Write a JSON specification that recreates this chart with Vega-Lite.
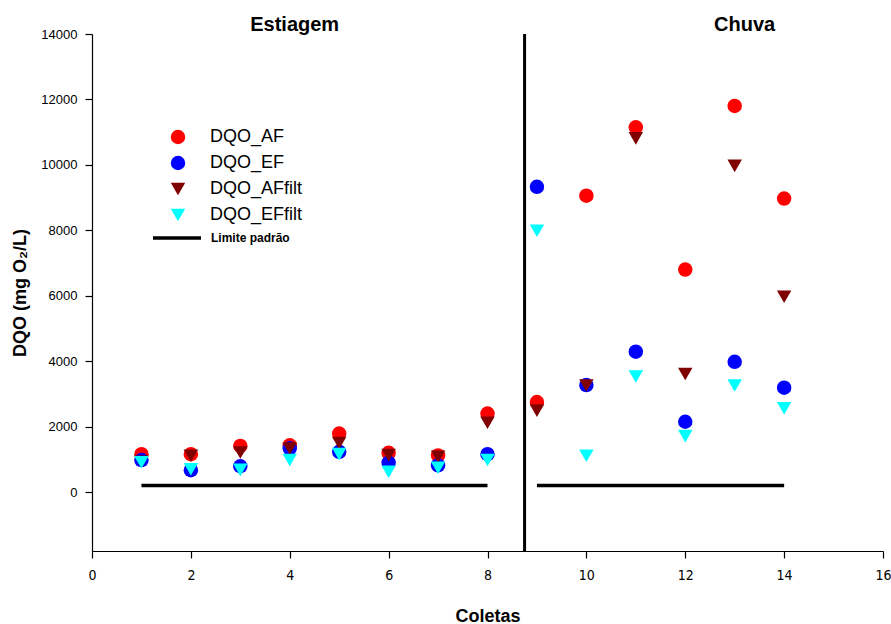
{
  "$schema": "https://vega.github.io/schema/vega-lite/v6.json",
  "width": 791,
  "height": 517,
  "autosize": {"type": "none"},
  "padding": {"left": 92, "top": 34, "right": 8, "bottom": 73},
  "config": {
    "view": {"stroke": null},
    "font": "Liberation Sans",
    "axis": {"grid": false, "domainColor": "black", "tickColor": "black", "labelColor": "black", "titleColor": "black", "domainWidth": 1.2, "tickWidth": 1.2}
  },
  "datasets": {
    "dqo": [
      {"coleta": 1, "serie": "DQO_AF", "dqo": 1160},
      {"coleta": 2, "serie": "DQO_AF", "dqo": 1160},
      {"coleta": 3, "serie": "DQO_AF", "dqo": 1410},
      {"coleta": 4, "serie": "DQO_AF", "dqo": 1430},
      {"coleta": 5, "serie": "DQO_AF", "dqo": 1790},
      {"coleta": 6, "serie": "DQO_AF", "dqo": 1200},
      {"coleta": 7, "serie": "DQO_AF", "dqo": 1120},
      {"coleta": 8, "serie": "DQO_AF", "dqo": 2400},
      {"coleta": 9, "serie": "DQO_AF", "dqo": 2750},
      {"coleta": 10, "serie": "DQO_AF", "dqo": 9060},
      {"coleta": 11, "serie": "DQO_AF", "dqo": 11150},
      {"coleta": 12, "serie": "DQO_AF", "dqo": 6800},
      {"coleta": 13, "serie": "DQO_AF", "dqo": 11800},
      {"coleta": 14, "serie": "DQO_AF", "dqo": 8970},
      {"coleta": 1, "serie": "DQO_EF", "dqo": 980},
      {"coleta": 2, "serie": "DQO_EF", "dqo": 670},
      {"coleta": 3, "serie": "DQO_EF", "dqo": 790},
      {"coleta": 4, "serie": "DQO_EF", "dqo": 1340},
      {"coleta": 5, "serie": "DQO_EF", "dqo": 1230},
      {"coleta": 6, "serie": "DQO_EF", "dqo": 900},
      {"coleta": 7, "serie": "DQO_EF", "dqo": 820},
      {"coleta": 8, "serie": "DQO_EF", "dqo": 1160},
      {"coleta": 9, "serie": "DQO_EF", "dqo": 9330},
      {"coleta": 10, "serie": "DQO_EF", "dqo": 3270},
      {"coleta": 11, "serie": "DQO_EF", "dqo": 4290},
      {"coleta": 12, "serie": "DQO_EF", "dqo": 2150},
      {"coleta": 13, "serie": "DQO_EF", "dqo": 3980},
      {"coleta": 14, "serie": "DQO_EF", "dqo": 3190},
      {"coleta": 1, "serie": "DQO_AFfilt", "dqo": 930},
      {"coleta": 2, "serie": "DQO_AFfilt", "dqo": 1110},
      {"coleta": 3, "serie": "DQO_AFfilt", "dqo": 1210},
      {"coleta": 4, "serie": "DQO_AFfilt", "dqo": 1335},
      {"coleta": 5, "serie": "DQO_AFfilt", "dqo": 1500},
      {"coleta": 6, "serie": "DQO_AFfilt", "dqo": 1130},
      {"coleta": 7, "serie": "DQO_AFfilt", "dqo": 1080},
      {"coleta": 8, "serie": "DQO_AFfilt", "dqo": 2120},
      {"coleta": 9, "serie": "DQO_AFfilt", "dqo": 2490},
      {"coleta": 10, "serie": "DQO_AFfilt", "dqo": 3260},
      {"coleta": 11, "serie": "DQO_AFfilt", "dqo": 10810},
      {"coleta": 12, "serie": "DQO_AFfilt", "dqo": 3610},
      {"coleta": 13, "serie": "DQO_AFfilt", "dqo": 9970},
      {"coleta": 14, "serie": "DQO_AFfilt", "dqo": 5970},
      {"coleta": 1, "serie": "DQO_EFfilt", "dqo": 910},
      {"coleta": 2, "serie": "DQO_EFfilt", "dqo": 700},
      {"coleta": 3, "serie": "DQO_EFfilt", "dqo": 680},
      {"coleta": 4, "serie": "DQO_EFfilt", "dqo": 980},
      {"coleta": 5, "serie": "DQO_EFfilt", "dqo": 1160},
      {"coleta": 6, "serie": "DQO_EFfilt", "dqo": 620},
      {"coleta": 7, "serie": "DQO_EFfilt", "dqo": 745},
      {"coleta": 8, "serie": "DQO_EFfilt", "dqo": 980},
      {"coleta": 9, "serie": "DQO_EFfilt", "dqo": 7990},
      {"coleta": 10, "serie": "DQO_EFfilt", "dqo": 1110},
      {"coleta": 11, "serie": "DQO_EFfilt", "dqo": 3530},
      {"coleta": 12, "serie": "DQO_EFfilt", "dqo": 1710},
      {"coleta": 13, "serie": "DQO_EFfilt", "dqo": 3260},
      {"coleta": 14, "serie": "DQO_EFfilt", "dqo": 2560}
    ],
    "limite": [
      {"inicio": 1, "fim": 8, "limite": 200, "rotulo": "Limite padrão"},
      {"inicio": 9, "fim": 14, "limite": 200, "rotulo": "Limite padrão"}
    ]
  },
  "layer": [
    {
      "data": {"name": "limite"},
      "mark": {"type": "rule", "strokeWidth": 3.5, "color": "black"},
      "encoding": {
        "x": {
          "field": "inicio", "type": "quantitative",
          "scale": {"domain": [0, 16], "nice": false},
          "axis": {
            "values": [0, 2, 4, 6, 8, 10, 12, 14, 16],
            "title": "Coletas",
            "titleFont": "Liberation Sans", "titleFontWeight": "bold", "titleFontSize": 18,
            "titlePadding": 25,
            "labelFont": "Liberation Sans Narrow, DejaVu Sans Condensed, sans-serif",
            "labelFontSize": 14, "labelPadding": 10, "tickSize": 7,
            "labelFlush": false, "labelOverlap": false
          }
        },
        "x2": {"field": "fim"},
        "y": {
          "field": "limite", "type": "quantitative",
          "scale": {"domain": [-1800, 14000], "nice": false, "zero": false},
          "axis": {
            "values": [0, 2000, 4000, 6000, 8000, 10000, 12000, 14000],
            "format": "d",
            "title": "DQO (mg O₂/L)",
            "titleFont": "Liberation Sans", "titleFontWeight": "bold", "titleFontSize": 18,
            "titlePadding": 11,
            "labelFontSize": 13, "labelPadding": 8, "tickSize": 7,
            "labelFlush": false, "labelOverlap": false
          }
        },
        "strokeDash": {
          "field": "rotulo", "type": "nominal",
          "scale": {"range": [[1, 0]]},
          "legend": {
            "orient": "none", "legendX": 59, "legendY": 178,
            "title": null, "padding": 0,
            "symbolType": "stroke", "symbolSize": 2304, "symbolStrokeWidth": 3.5, "symbolStrokeColor": "black",
            "labelFontSize": 12, "labelFontWeight": "bold", "labelOffset": 8, "labelColor": "black"
          }
        }
      }
    },
    {
      "data": {"values": [{}]},
      "mark": {"type": "rule", "strokeWidth": 3, "color": "black"},
      "encoding": {"x": {"datum": 8.75}}
    },
    {
      "data": {"name": "dqo"},
      "mark": {"type": "point", "filled": true, "size": 210, "opacity": 1},
      "encoding": {
        "x": {"field": "coleta", "type": "quantitative"},
        "y": {"field": "dqo", "type": "quantitative"},
        "color": {
          "field": "serie", "type": "nominal",
          "scale": {"domain": ["DQO_AF", "DQO_EF", "DQO_AFfilt", "DQO_EFfilt"], "range": ["#ff0000", "#0000ff", "#800000", "#00ffff"]},
          "legend": {
            "orient": "none", "legendX": 77, "legendY": 94,
            "title": null, "padding": 0,
            "symbolSize": 210, "symbolOpacity": 1, "symbolStrokeWidth": 0,
            "labelFontSize": 18, "labelOffset": 23, "rowPadding": 8, "labelColor": "black"
          }
        },
        "shape": {
          "field": "serie", "type": "nominal",
          "scale": {"domain": ["DQO_AF", "DQO_EF", "DQO_AFfilt", "DQO_EFfilt"], "range": ["circle", "circle", "triangle-down", "triangle-down"]}
        }
      }
    },
    {
      "data": {"values": [{}]},
      "mark": {"type": "text", "fontSize": 20, "fontWeight": "bold", "baseline": "middle", "align": "center", "color": "black"},
      "encoding": {"x": {"datum": 4.1}, "y": {"datum": 14280}, "text": {"value": "Estiagem"}}
    },
    {
      "data": {"values": [{}]},
      "mark": {"type": "text", "fontSize": 20, "fontWeight": "bold", "baseline": "middle", "align": "center", "color": "black"},
      "encoding": {"x": {"datum": 13.2}, "y": {"datum": 14280}, "text": {"value": "Chuva"}}
    }
  ]
}
